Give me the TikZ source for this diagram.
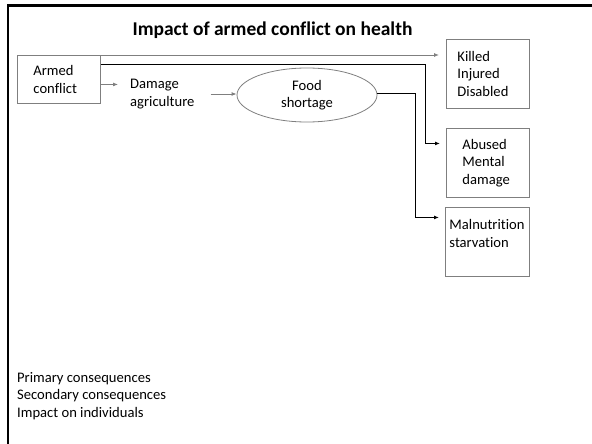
\documentclass[tikz,border=0pt]{standalone}
\usepackage{fontspec}
\setmainfont{Carlito}[Ligatures=NoCommon]
\usetikzlibrary{arrows.meta,shapes.geometric}
\definecolor{boxgray}{HTML}{7F7F7F}
\tikzset{
  body/.style={font=\fontsize{14.6}{17.5}\selectfont},
  titletext/.style={font=\fontsize{19.5}{23}\selectfont\bfseries},
  framebox/.style={draw=boxgray, line width=0.9pt, body, align=left,
    anchor=north west, minimum height=69pt, inner ysep=0pt},
  plain/.style={body, align=left, inner sep=0pt},
  tipped/.style={-{Latex[length=5pt,width=4pt]}},
  garrow/.style={tipped, draw=boxgray, line width=0.9pt},
  karrow/.style={tipped, draw=black, line width=1pt},
}
\begin{document}
\begin{tikzpicture}[x=1pt,y=-1pt]
  \useasboundingbox (0,0) rectangle (592,444);
  % slide frame (left and top edges)
  \draw[line width=2.5pt, line join=miter] (8,444) -- (8,5.5) -- (592,5.5);

  % title
  \node[titletext] (title) at (272.5,30.5) {Impact of armed conflict on health};

  % cause and intermediate steps
  \node[framebox, minimum height=48pt, inner xsep=16pt, text width=51pt]
    (armed) at (17,55) {Armed\\conflict};
  \node[plain, anchor=west] (damage) at (130,94) {Damage\\agriculture};
  \node[draw=boxgray, line width=0.8pt, ellipse, minimum width=140pt,
    minimum height=54pt, body, align=center, inner sep=0pt]
    (food) at (307,95) {Food\\shortage};

  % consequences
  \node[framebox, inner xsep=11pt, text width=61pt]
    (killed) at (446,39) {Killed\\Injured\\Disabled};
  \node[framebox, inner xsep=16pt, text width=51pt]
    (abused) at (446,128) {Abused\\Mental\\damage};
  \node[framebox, inner xsep=4pt, text width=76pt]
    (maln) at (445,207) {Malnutrition\\starvation\\\mbox{}};

  % legend
  \node[plain, anchor=north west] (legend) at (17,372)
    {Primary consequences\\Secondary consequences\\Impact on individuals};

  % connectors
  \draw[garrow, shorten >=7pt] (armed.north east)
    -- (armed.north east -| killed.west);
  \draw[karrow, shorten >=6pt] ([yshift=-9.5pt]armed.north east)
    -- ++(324.5,0) |- ([yshift=19.5pt]abused.west);
  \draw[garrow, shorten >=12pt] ([yshift=-5pt]armed.east)
    -- ([yshift=-5pt]armed.east -| damage.west);
  \draw[garrow, shorten <=16pt] (damage.east) -- (damage.east -| food.west);
  \draw[karrow, shorten >=6pt] ([yshift=1pt]food.east)
    -- ++(38,0) |- ([yshift=24.5pt]maln.west);
\end{tikzpicture}
\end{document}
